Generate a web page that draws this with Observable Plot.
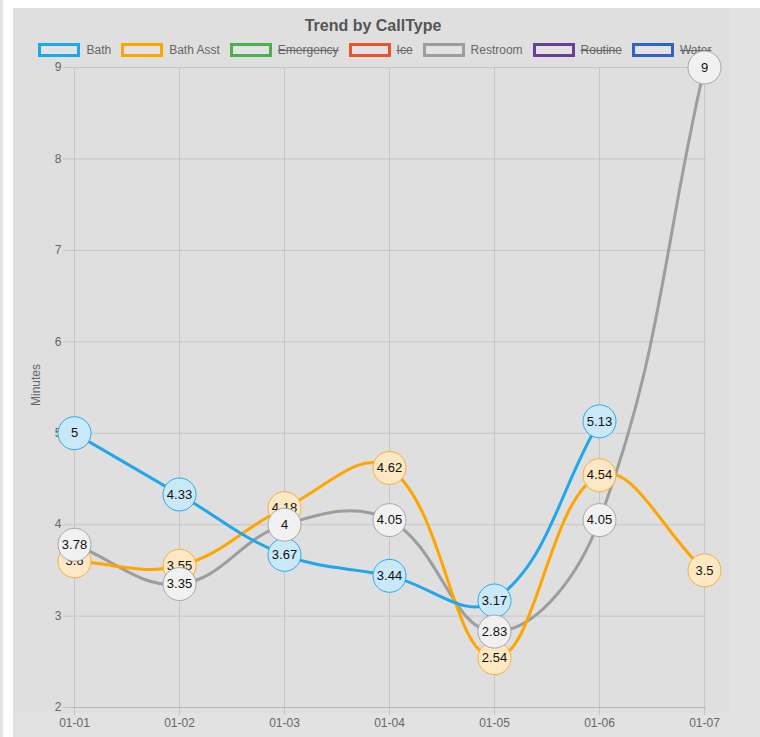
<!DOCTYPE html>
<html>
<head>
<meta charset="utf-8">
<script src="https://cdn.jsdelivr.net/npm/d3@7"></script>
<script src="https://cdn.jsdelivr.net/npm/@observablehq/plot@0.6"></script>
<style>
  html, body { margin: 0; padding: 0; background: #fff; }
  body { width: 760px; height: 737px; position: relative; overflow: hidden; font-family: "Liberation Sans", Arial, sans-serif; }
  #edge { position: absolute; left: 0; top: 0; width: 3px; height: 737px; background: #e4e4e4; }
  #panel { position: absolute; left: 13px; top: 8px; width: 747px; height: 729px; background: #e2e2e2; }
  #canvasbg { position: absolute; left: 13px; top: 8px; width: 718px; height: 705px; background: #dfdfe0; }
  #title { position: absolute; left: 13px; top: 17px; width: 720px; text-align: center; font-weight: bold; font-size: 16px; color: #555; }
  #legend { position: absolute; left: 15px; top: 43px; width: 720px; display: flex; justify-content: center; font-size: 12px; color: #666; }
  .item { display: flex; align-items: center; margin: 0 5px; }
  .box { width: 36px; height: 8px; border: 3px solid; margin-right: 6px; background: #e3e3e3; }
  .hidden span { text-decoration: line-through; }
  #ylabel { position: absolute; left: 36px; top: 385px; transform: translate(-50%, -50%) rotate(-90deg); font-size: 12px; color: #666; white-space: nowrap; }
  #chart { position: absolute; left: 0; top: 0; }
</style>
</head>
<body>
<div id="edge"></div>
<div id="panel"></div>
<div id="canvasbg"></div>
<div id="title"></div>
<div id="legend"></div>
<div id="ylabel"></div>
<div id="chart"></div>
<script>
// ---- data ----
const dates = ["01-01", "01-02", "01-03", "01-04", "01-05", "01-06", "01-07"];
const bath = [5, 4.33, 3.67, 3.44, 3.17, 5.13, null];
const bathAsst = [3.6, 3.55, 4.18, 4.62, 2.54, 4.54, 3.5];
const restroom = [3.78, 3.35, 4, 4.05, 2.83, 4.05, 9];
const seriesNames = ["Bath", "Bath Asst", "Emergency", "Ice", "Restroom", "Routine", "Water"];
const seriesHidden = [false, false, true, true, false, true, true];
const yTicks = [2, 3, 4, 5, 6, 7, 8, 9];
const titleText = "Trend by CallType";
const yLabelText = "Minutes";

// ---- styles ----
const strokeColors = {
  "Bath": "#1ea7ec", "Bath Asst": "#ffa500", "Emergency": "#4caf50", "Ice": "#e8552d",
  "Restroom": "#9d9d9f", "Routine": "#6a3f98", "Water": "#2f63c9"
};
const fillColors = { "Bath": "#c9e8f8", "Bath Asst": "#fde8c3", "Restroom": "#f1f1f1" };
const circleStroke = { "Bath": "#2aa9ec", "Bath Asst": "#f5b03a", "Restroom": "#a6a6a8" };

const visibleSeries = [
  {name: "Bath", values: bath},
  {name: "Bath Asst", values: bathAsst},
  {name: "Restroom", values: restroom}
];
const rows = visibleSeries.flatMap(s => dates.map((d, i) => ({series: s.name, date: d, value: s.values[i]})))
  .filter(r => r.value != null);

// ---- title / legend / y label ----
document.getElementById("title").textContent = titleText;
document.getElementById("ylabel").textContent = yLabelText;
const legend = document.getElementById("legend");
seriesNames.forEach((n, i) => {
  const it = document.createElement("div");
  it.className = "item" + (seriesHidden[i] ? " hidden" : "");
  const b = document.createElement("div");
  b.className = "box";
  b.style.borderColor = strokeColors[n];
  const t = document.createElement("span");
  t.textContent = n;
  it.appendChild(b); it.appendChild(t);
  legend.appendChild(it);
});

// ---- layout ----
const W = 760, H = 737, mT = 67, mB = 30, mL = 72, mR = 54;

// Chart.js-like spline curve (tension 0.4), control points capped to the chart area
function chartjsCurve(t, x0, x1, y0, y1) {
  return function(context) {
    let pts = [];
    const clampX = v => Math.max(x0, Math.min(x1, v));
    const clampY = v => Math.max(y0, Math.min(y1, v));
    return {
      areaStart() {}, areaEnd() {},
      lineStart() { pts = []; },
      point(x, y) { pts.push([+x, +y]); },
      lineEnd() {
        const n = pts.length;
        if (!n) return;
        const cpP = [], cpN = [];
        for (let i = 0; i < n; i++) {
          const cur = pts[i], prev = pts[i - 1] || cur, next = pts[i + 1] || cur;
          const d01 = Math.hypot(cur[0] - prev[0], cur[1] - prev[1]);
          const d12 = Math.hypot(next[0] - cur[0], next[1] - cur[1]);
          let s01 = d01 / (d01 + d12), s12 = d12 / (d01 + d12);
          if (isNaN(s01)) s01 = 0; if (isNaN(s12)) s12 = 0;
          const fa = t * s01, fb = t * s12;
          cpP.push([clampX(cur[0] - fa * (next[0] - prev[0])), clampY(cur[1] - fa * (next[1] - prev[1]))]);
          cpN.push([clampX(cur[0] + fb * (next[0] - prev[0])), clampY(cur[1] + fb * (next[1] - prev[1]))]);
        }
        context.moveTo(pts[0][0], pts[0][1]);
        for (let i = 1; i < n; i++) {
          context.bezierCurveTo(cpN[i - 1][0], cpN[i - 1][1], cpP[i][0], cpP[i][1], pts[i][0], pts[i][1]);
        }
      }
    };
  };
}
const curve = chartjsCurve(0.4, mL, W - mR, mT, H - mB);

const lineOrder = ["Restroom", "Bath Asst", "Bath"];
const marks = [
  Plot.gridY(yTicks, {stroke: "#c6c6c8", strokeOpacity: 1}),
  Plot.gridX(dates, {stroke: "#c6c6c8", strokeOpacity: 1}),
  Plot.axisY(yTicks, {tickSize: 9, tickPadding: 2, tickFormat: d => String(d), stroke: "#c6c6c8", fill: "#666", fontSize: 12, label: null}),
  Plot.axisX(dates, {tickSize: 8, tickPadding: 3, stroke: "#c6c6c8", fill: "#666", fontSize: 12, label: null}),
  Plot.ruleY([2], {stroke: "#b8b8ba"}),
  ...lineOrder.map(n => Plot.line(rows.filter(r => r.series === n), {
    x: "date", y: "value", stroke: strokeColors[n], strokeWidth: 3, curve
  })),
  ...visibleSeries.flatMap(s => {
    const d = rows.filter(r => r.series === s.name);
    return [
      Plot.dot(d, {x: "date", y: "value", r: 16.5, fill: fillColors[s.name], stroke: circleStroke[s.name], strokeWidth: 1}),
      Plot.text(d, {x: "date", y: "value", text: r => String(r.value), fill: "#111", fontSize: 13})
    ];
  })
];

const chart = Plot.plot({
  width: W, height: H,
  marginTop: mT, marginBottom: mB, marginLeft: mL, marginRight: mR,
  style: {background: "transparent", fontFamily: "Liberation Sans, Arial, sans-serif", overflow: "visible"},
  x: {type: "point", domain: dates, padding: 0},
  y: {domain: [2, 9]},
  marks
});
document.getElementById("chart").appendChild(chart);
</script>
</body>
</html>
